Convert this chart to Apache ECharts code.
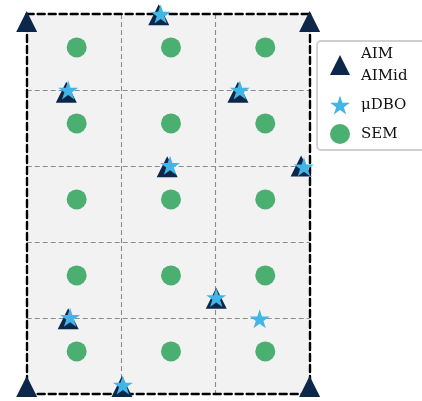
<!DOCTYPE html>
<html>
<head>
<meta charset="utf-8">
<script src="https://cdn.jsdelivr.net/npm/echarts@6/dist/echarts.min.js"></script>
<style>html,body{margin:0;padding:0;background:#fff;}#c{width:422px;height:401px;}</style>
</head>
<body>
<div id="c"></div>
<script>
// ---- data ----
const aimX = [0, 0, 3, 3, 1.40, 0.42, 2.24, 1.49, 2.91, 2.01, 0.44, 1.01];
const aimY = [0.1, 4.9, 0.1, 4.9, 4.99, 3.97, 3.97, 2.99, 3.0, 1.26, 0.99, 0.1];
const dboX = [1.42, 0.44, 2.26, 1.52, 2.94, 2.01, 2.47, 0.46, 1.02];
const dboY = [5.0, 4.0, 4.0, 3.01, 2.99, 1.27, 0.99, 1.01, 0.12];
const semX = [0.53, 1.53, 2.53];
const semY = [0.56, 1.56, 2.56, 3.56, 4.56];
const seriesNames = ['AIM', 'μDBO', 'SEM'];
const legendLabels = {'AIM': 'AIM\nAIMid', 'μDBO': 'μDBO', 'SEM': 'SEM'};

// star marker path (5-point, inner ratio like matplotlib)
function starPath() {
  const pts = [];
  const inner = 0.381966;
  for (let i = 0; i < 10; i++) {
    const r = i % 2 === 0 ? 1 : inner;
    const a = Math.PI / 2 + i * Math.PI / 5;
    pts.push([(r * Math.cos(a)).toFixed(4), (-r * Math.sin(a)).toFixed(4)]);
  }
  return 'path://M' + pts.map(p => p[0] + ',' + p[1]).join('L') + 'Z';
}
const STAR = starPath();

const aimData = aimX.map((x, i) => [x, aimY[i]]);
const dboData = dboX.map((x, i) => [x, dboY[i]]);
const semData = [];
semY.forEach(y => semX.forEach(x => semData.push([x, y])));

const font = 'DejaVu Serif';
const borderLine = {show: true, onZero: false, lineStyle: {color: '#000', width: 2.4, type: [7, 4]}};
const split = {show: true, showMinLine: false, showMaxLine: false, lineStyle: {color: '#8c8c8c', width: 1.1, type: [5, 3]}};

const chart = echarts.init(document.getElementById('c'), null, {renderer: 'canvas'});
chart.setOption({
  animation: false,
  grid: {left: 26.7, right: 112.4, top: 14, bottom: 7, show: true, backgroundColor: '#f2f2f2', borderWidth: 0},
  xAxis: [
    {type: 'value', min: 0, max: 3, interval: 1, position: 'bottom', axisLine: borderLine, axisTick: {show: false}, axisLabel: {show: false}, splitLine: split},
    {type: 'value', min: 0, max: 3, interval: 1, position: 'top', axisLine: borderLine, axisTick: {show: false}, axisLabel: {show: false}, splitLine: {show: false}}
  ],
  yAxis: [
    {type: 'value', min: 0, max: 5, interval: 1, position: 'left', axisLine: borderLine, axisTick: {show: false}, axisLabel: {show: false}, splitLine: split},
    {type: 'value', min: 0, max: 5, interval: 1, position: 'right', axisLine: borderLine, axisTick: {show: false}, axisLabel: {show: false}, splitLine: {show: false}}
  ],
  legend: {
    left: 317, top: 41,
    orient: 'vertical',
    data: seriesNames,
    itemWidth: 20, itemHeight: 20, itemGap: 7,
    padding: [2, 30, 5, 13],
    backgroundColor: '#ffffff',
    borderColor: '#cfcfcf', borderWidth: 1.8, borderRadius: 4,
    formatter: n => legendLabels[n],
    textStyle: {fontFamily: font, fontSize: 15, color: '#111', lineHeight: 22, padding: [0, 0, 0, 6]}
  },
  series: [
    {name: 'AIM', type: 'scatter', data: aimData, symbol: 'triangle', symbolSize: [21, 21], clip: false, z: 3,
     itemStyle: {color: '#0c2749', opacity: 1}},
    {name: 'μDBO', type: 'scatter', data: dboData, symbol: STAR, symbolSize: [20, 19], clip: false, z: 4,
     itemStyle: {color: '#41b6e6', opacity: 1}},
    {name: 'SEM', type: 'scatter', data: semData, symbol: 'circle', symbolSize: 20, clip: false, z: 3,
     itemStyle: {color: '#4caf72', opacity: 1}}
  ]
});
</script>
</body>
</html>
